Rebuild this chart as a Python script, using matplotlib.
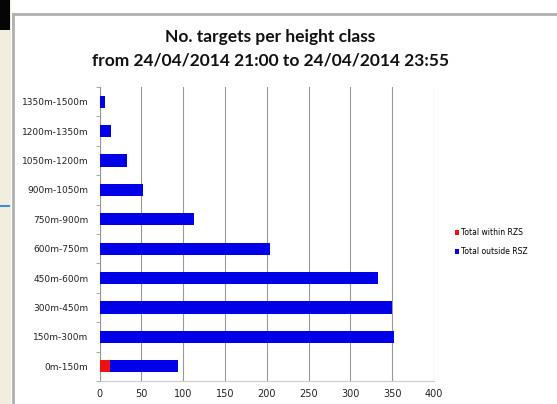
import matplotlib.pyplot as plt
from matplotlib.patches import Rectangle

# height classes, bottom to top
height_classes = ["0m-150m", "150m-300m", "300m-450m", "450m-600m", "600m-750m",
                  "750m-900m", "900m-1050m", "1050m-1200m", "1200m-1350m", "1350m-1500m"]
within_rzs = [12, 0, 0, 0, 0, 0, 0, 0, 0, 0]
outside_rsz = [82, 352, 350, 333, 204, 113, 52, 33, 14, 7]
x_ticks = [0, 50, 100, 150, 200, 250, 300, 350, 400]

RED = "#ee1111"
BLUE = "#0000e8"
W, H = 557, 404


def main():
    fig = plt.figure(figsize=(5.57, 4.04), dpi=100)
    fig.patch.set_facecolor("white")

    # screenshot surroundings: beige strip at left, chart area border
    fig.add_artist(Rectangle((0, 0), 11 / W, 1, transform=fig.transFigure,
                             facecolor="#f2eedf", edgecolor="none"))
    fig.add_artist(Rectangle((0, 1 - 30 / H), 10 / W, 30 / H, transform=fig.transFigure,
                             facecolor="#050505", edgecolor="none"))
    fig.add_artist(plt.Line2D([12.5 / W, 12.5 / W], [0, 1 - 14 / H], transform=fig.transFigure,
                              color="#b0b0b0", lw=2))
    fig.add_artist(plt.Line2D([12.5 / W, 1], [1 - 14 / H, 1 - 14 / H], transform=fig.transFigure,
                              color="#b0b0b0", lw=2))
    fig.add_artist(plt.Line2D([0, 9 / W], [1 - 206 / H, 1 - 206 / H], transform=fig.transFigure,
                              color="#3a8fd8", lw=1.5))

    left, right, top, bottom = 99.5, 434, 87, 381
    ax = fig.add_axes([left / W, 1 - bottom / H, (right - left) / W, (bottom - top) / H])

    y = range(len(height_classes))
    ax.barh(y, within_rzs, height=0.42, color=RED, label="Total within RZS", zorder=3)
    ax.barh(y, outside_rsz, left=within_rzs, height=0.42, color=BLUE,
            label="Total outside RSZ", zorder=3)

    ax.set_xlim(0, 400)
    ax.set_ylim(-0.5, len(height_classes) - 0.5)
    ax.set_xticks(x_ticks)
    ax.set_yticks(list(y))
    ax.set_yticklabels(height_classes)
    ax.set_yticks([i - 0.5 for i in range(len(height_classes) + 1)], minor=True)
    ax.tick_params(axis="y", which="major", length=0, pad=8, labelsize=6.5, colors="#222222")
    ax.tick_params(axis="y", which="minor", length=3, color="#999999")
    ax.tick_params(axis="x", length=0, pad=6, labelsize=7, colors="#222222")
    ax.grid(axis="x", color="#999999", lw=0.8, zorder=0)
    for side in ["top", "right"]:
        ax.spines[side].set_visible(False)
    ax.spines["left"].set_color("#999999")
    ax.spines["bottom"].set_color("#cccccc")

    fig.text(270 / W, 1 - 37 / H, "No. targets per height class", ha="center", va="center",
             fontsize=12.5, fontweight="bold", family="Lato", color="#111111")
    fig.text(270 / W, 1 - 61 / H, "from 24/04/2014 21:00 to 24/04/2014 23:55", ha="center",
             va="center", fontsize=12.5, fontweight="bold", family="Lato", color="#111111")

    fig.legend(loc="center left", bbox_to_anchor=(448 / W, 1 - 242 / H), frameon=False,
               fontsize=5.5, handlelength=0.6, handleheight=0.6, handletextpad=0.2,
               labelspacing=1.3)

    fig.savefig("out.png", dpi=100)


if __name__ == "__main__":
    main()
